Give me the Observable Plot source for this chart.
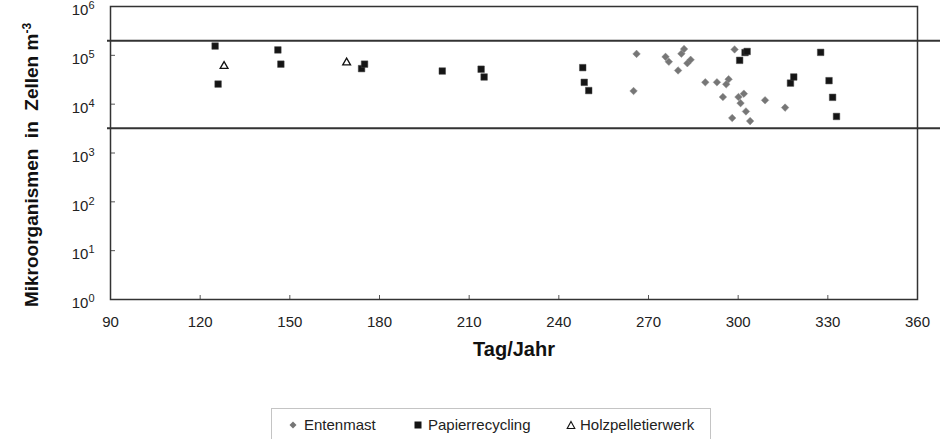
<!DOCTYPE html>
<html><head><meta charset="utf-8">
<script src="https://cdn.jsdelivr.net/npm/d3@7"></script>
<script src="https://cdn.jsdelivr.net/npm/@observablehq/plot@0.6"></script>
<style>
body{margin:0;background:#fff;font-family:"Liberation Sans",Arial,sans-serif;}
#wrap{position:relative;width:943px;height:439px;overflow:hidden;}
#chart svg{display:block}
#legend{position:absolute;left:271px;top:408px;width:440px;height:40px;border:1px solid #c4c4c4;box-sizing:border-box;color:#222;font-size:15px;}
#legend .item{position:absolute;top:6px;height:20px;line-height:20px;white-space:nowrap;}
#legend svg{position:absolute;top:5px;}
</style>
</head><body>
<div id="wrap"><div id="chart"></div><div id="legend"></div></div>
<script>
// ---- data ----
const seriesNames = ["Entenmast", "Papierrecycling", "Holzpelletierwerk"];
const entenmastDay = [265, 266, 275.7, 276.8, 279.9, 281.0, 281.9, 283.0, 284.1, 289.0, 292.9, 294.9, 296.0, 296.8, 298.0, 298.8, 300.1, 300.8, 301.9, 302.6, 304.0, 309.0, 315.7];
const entenmastVal = [1.86e4, 1.07e5, 9.3e4, 7.4e4, 4.9e4, 1.08e5, 1.35e5, 6.9e4, 8.1e4, 2.8e4, 2.8e4, 1.4e4, 2.55e4, 3.25e4, 5.2e3, 1.32e5, 1.4e4, 1.05e4, 1.64e4, 7.1e3, 4.5e3, 1.2e4, 8.5e3];
const papierDay = [125, 126, 146, 147, 174, 175, 201, 214, 215, 248, 248.5, 250, 300.5, 302.3, 303, 317.5, 318.6, 327.6, 330.4, 331.6, 332.9];
const papierVal = [1.55e5, 2.58e4, 1.29e5, 6.6e4, 5.35e4, 6.6e4, 4.77e4, 5.2e4, 3.6e4, 5.6e4, 2.8e4, 1.9e4, 7.9e4, 1.14e5, 1.2e5, 2.7e4, 3.6e4, 1.15e5, 3.03e4, 1.38e4, 5.6e3];
const holzDay = [128, 169];
const holzVal = [6.0e4, 7.1e4];
const rangeLines = [2.0e5, 3.2e3];
const xTicks = [90, 120, 150, 180, 210, 240, 270, 300, 330, 360];
const yTicks = [1, 10, 100, 1000, 10000, 100000, 1000000];
const xTitle = "Tag/Jahr";
const yTitle = "Mikroorganismen  in  Zellen m";
const yTitleSup = "-3";

const ente = entenmastDay.map((d, i) => ({day: d, value: entenmastVal[i]}));
const papier = papierDay.map((d, i) => ({day: d, value: papierVal[i]}));
const holz = holzDay.map((d, i) => ({day: d, value: holzVal[i]}));

const W = 943, H = 400, ML = 110, MR = 26, MT = 6, MB = 101;
const innerW = W - ML - MR, innerH = H - MT - MB;

const plot = Plot.plot({
  width: W, height: H,
  marginLeft: ML, marginRight: MR, marginTop: MT, marginBottom: MB,
  style: {fontFamily: "'Liberation Sans', Arial, sans-serif", fontSize: "15px", color: "#222", background: "#fff", overflow: "visible"},
  x: {domain: [90, 360], label: null},
  y: {type: "log", domain: [1, 1e6], label: null},
  marks: [
    Plot.ruleY(rangeLines, {stroke: "#333", strokeWidth: 2, insetLeft: -3, insetRight: -23}),
    Plot.tickX(xTicks, {x: d => d, stroke: "#555", strokeWidth: 1, insetTop: innerH - 4}),
    Plot.tickY(yTicks, {y: d => d, stroke: "#555", strokeWidth: 1, insetRight: innerW - 5}),
    Plot.frame({stroke: "#333", strokeWidth: 1.5}),
    Plot.axisX({ticks: xTicks, tickSize: 0, tickPadding: 17, label: null, fontSize: 15, tickFormat: d => String(d)}),
    Plot.axisY({ticks: yTicks, tickSize: 0, tickPadding: 16, label: null, fontSize: 15, dy: 4,
      tickFormat: d => "10^" + Math.round(Math.log10(d))}),
    Plot.dot(ente, {x: "day", y: "value", symbol: "diamond2", r: 3.4, fill: "#767676", stroke: "#8a8a8a", strokeWidth: 0.5}),
    Plot.dot(papier, {x: "day", y: "value", symbol: "square", r: 3.7, fill: "#151515", stroke: "#444", strokeWidth: 0.5}),
    Plot.dot(holz, {x: "day", y: "value", symbol: "triangle", r: 2.9, fill: "#fff", stroke: "#111", strokeWidth: 1.3}),
    Plot.text([xTitle], {frameAnchor: "bottom", dy: 56, text: d => d, fontWeight: "bold", fontSize: 20, fill: "#111"})
  ]
});
document.getElementById("chart").appendChild(plot);

// superscripts on y tick labels
d3.select(plot).selectAll("g[aria-label='y-axis tick label'] text").each(function() {
  const t = this.textContent;
  const m = t.split("^");
  if (m.length === 2) {
    const sel = d3.select(this);
    sel.text(m[0]);
    sel.append("tspan").attr("dy", "-0.55em").attr("font-size", "11px").text(m[1]);
  }
});

// y title with superscript
const yt = d3.select(plot).append("text")
  .attr("transform", "translate(38,165) rotate(-90)")
  .attr("text-anchor", "middle")
  .attr("font-weight", "bold")
  .attr("font-size", 19)
  .attr("fill", "#111")
  .style("white-space", "pre")
  .text(yTitle);
yt.append("tspan").attr("dy", "-0.6em").attr("font-size", "12px").text(yTitleSup);

// legend
const legend = d3.select("#legend");
const items = [
  {name: seriesNames[0], mx: 21, tx: 32, shape: "diamond"},
  {name: seriesNames[1], mx: 146, tx: 156, shape: "square"},
  {name: seriesNames[2], mx: 299, tx: 308, shape: "triangle"}
];
items.forEach(it => {
  const s = legend.append("svg").attr("width", 12).attr("height", 12)
    .style("left", (it.mx - 6) + "px").style("top", "10px");
  if (it.shape === "diamond") s.append("path").attr("d", "M6,2.5L9.5,6L6,9.5L2.5,6Z").attr("fill", "#767676");
  if (it.shape === "square") s.append("rect").attr("x", 2.5).attr("y", 2.5).attr("width", 7).attr("height", 7).attr("fill", "#151515");
  if (it.shape === "triangle") s.append("path").attr("d", "M6,2.5L9.8,9.5L2.2,9.5Z").attr("fill", "#fff").attr("stroke", "#111").attr("stroke-width", 1.1);
  legend.append("div").attr("class", "item").style("left", it.tx + "px").text(it.name);
});
</script>
</body></html>
